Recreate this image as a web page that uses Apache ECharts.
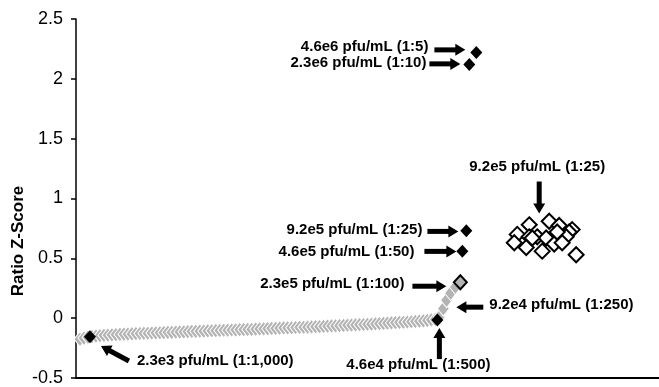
<!DOCTYPE html>
<html>
<head>
<meta charset="utf-8">
<script src="https://cdn.jsdelivr.net/npm/echarts@6/dist/echarts.min.js"></script>
<style>
html,body{margin:0;padding:0;background:#fff;}
#chart{width:659px;height:387px;}
</style>
</head>
<body>
<div id="chart"></div>
<script>
// ---- Data (x = rank position, y = Ratio Z-Score) ----
var yTicks = [-0.5, 0, 0.5, 1, 1.5, 2, 2.5];
var yAxisTitle = "Ratio Z-Score";

// gray sorted background points (rank 1..90)
var grayValues = [
  -0.175,-0.166,-0.159,-0.154,-0.150,-0.147,-0.144,-0.142,-0.140,-0.138,
  -0.136,-0.134,-0.133,-0.131,-0.130,-0.128,-0.127,-0.126,-0.124,-0.123,
  -0.122,-0.120,-0.119,-0.118,-0.116,-0.115,-0.114,-0.113,-0.111,-0.110,
  -0.109,-0.108,-0.106,-0.105,-0.104,-0.103,-0.101,-0.100,-0.099,-0.098,
  -0.096,-0.095,-0.094,-0.093,-0.091,-0.090,-0.089,-0.088,-0.086,-0.085,
  -0.084,-0.082,-0.081,-0.080,-0.078,-0.077,-0.076,-0.074,-0.073,-0.071,
  -0.070,-0.068,-0.067,-0.065,-0.064,-0.062,-0.061,-0.059,-0.058,-0.056,
  -0.054,-0.053,-0.051,-0.049,-0.047,-0.046,-0.044,-0.042,-0.040,-0.038,
  -0.036,-0.034,-0.032,-0.030,-0.027,-0.025,-0.022,-0.019,-0.015,-0.010
];
// gray steep tail (1:250 dilution)
var steepX = [91, 92, 92.8, 93.8, 95];
var steepY = [0.01, 0.08, 0.15, 0.21, 0.26];

// highlighted dilution points (black)
var blackX = [3.5, 90.5, 96.75, 97.75, 98.5, 100.25];
var blackY = [-0.155, -0.015, 0.56, 0.73, 2.12, 2.22];

// 1:100 point (gray with black border)
var midX = [96.25];
var midY = [0.30];

// 9.2e5 pfu/mL (1:25) replicate cluster (open diamonds)
var clusterX = [113.5, 118.5, 121, 124.25, 123.5, 110.5, 113.5, 115.5, 117.75, 122.75, 109.75, 112.75, 116.75, 119.75, 121.75, 125.25, 114.25, 120.5];
var clusterY = [0.78, 0.81, 0.775, 0.74, 0.72, 0.70, 0.68, 0.68, 0.67, 0.68, 0.63, 0.59, 0.56, 0.62, 0.63, 0.53, 0.67, 0.72];

// annotations: text + arrow (data coordinates)
var annTexts = ["4.6e6 pfu/mL (1:5)", "2.3e6 pfu/mL (1:10)", "9.2e5 pfu/mL (1:25)", "4.6e5 pfu/mL (1:50)",
  "2.3e5 pfu/mL (1:100)", "9.2e4 pfu/mL (1:250)", "4.6e4 pfu/mL (1:500)", "2.3e3 pfu/mL (1:1,000)", "9.2e5 pfu/mL (1:25)"];
var annTextPos = [[88.25,2.267],[87.75,2.133],[86.75,0.742],[84.75,0.558],[82.25,0.283],[103.5,0.108],[85.75,-0.392],[15.25,-0.358],[115.5,1.267]];
var annAlign = ["right","right","right","right","right","left","center","left","center"];
var arrowFrom = [[89.75,2.242],[88.5,2.125],[88,0.725],[87.25,0.558],[84.25,0.267],[102,0.092],[91,-0.342],[13.25,-0.358],[116,1.142]];
var arrowTo   = [[97.5,2.242],[96.25,2.125],[95.75,0.725],[95.25,0.558],[92.75,0.267],[95.25,0.092],[91,-0.083],[6.25,-0.233],[116,0.875]];

function pairs(xs, ys){ var out=[]; for(var i=0;i<xs.length;i++) out.push([xs[i], ys[i]]); return out; }
var grayData = grayValues.map(function(v,i){ return [i+1, v]; }).concat(pairs(steepX, steepY));

var chart = echarts.init(document.getElementById('chart'), null, {renderer:'canvas'});
var FONT = "'Liberation Sans', Arial, sans-serif";

chart.setOption({
  animation: false,
  backgroundColor: '#fff',
  grid: {left: 76, right: 0, top: 19, bottom: 8},
  xAxis: {type:'value', min:0, max:146,
    axisLine:{show:true, onZero:false, lineStyle:{color:'#000', width:2}},
    axisTick:{show:false}, axisLabel:{show:false}, splitLine:{show:false}},
  yAxis: {type:'value', min:yTicks[0], max:yTicks[yTicks.length-1], interval:0.5,
    axisLine:{show:true, lineStyle:{color:'#000', width:1.5}},
    axisTick:{show:true, length:5, lineStyle:{color:'#000', width:1.5}},
    axisLabel:{color:'#000', fontSize:18, fontFamily:FONT, margin:13},
    splitLine:{show:false}},
  series: [
    {type:'scatter', data: grayData, symbol:'diamond', symbolSize:[12,15],
      itemStyle:{color:'#b3b3b3', borderColor:'#fff', borderWidth:1, opacity:1}, z:2},
    {type:'scatter', data: pairs(blackX, blackY), symbol:'diamond', symbolSize:[12,13],
      itemStyle:{color:'#000', opacity:1}, z:4},
    {type:'scatter', data: pairs(midX, midY), symbol:'diamond', symbolSize:[13,14],
      itemStyle:{color:'#b3b3b3', borderColor:'#000', borderWidth:2, opacity:1}, z:4},
    {type:'scatter', data: pairs(clusterX, clusterY), symbol:'diamond', symbolSize:15,
      itemStyle:{color:'#fff', borderColor:'#000', borderWidth:2, opacity:1}, z:3}
  ]
});

var g = [];
g.push({type:'text', x:18, y:241, rotation:Math.PI/2,
  style:{text:yAxisTitle, font:'bold 17px ' + FONT, fill:'#000', textAlign:'center', textVerticalAlign:'middle'}});
for (var i=0;i<annTexts.length;i++){
  var tp = chart.convertToPixel({gridIndex:0}, annTextPos[i]);
  g.push({type:'text', x:tp[0], y:tp[1],
    style:{text:annTexts[i], font:'bold 15px ' + FONT, fill:'#000', textAlign:annAlign[i], textVerticalAlign:'middle'}});
  var a = chart.convertToPixel({gridIndex:0}, arrowFrom[i]);
  var b = chart.convertToPixel({gridIndex:0}, arrowTo[i]);
  var dx=b[0]-a[0], dy=b[1]-a[1], L=Math.sqrt(dx*dx+dy*dy), ux=dx/L, uy=dy/L;
  var headL=10, headW=6;
  var bx=b[0]-ux*headL, by=b[1]-uy*headL;
  g.push({type:'line', shape:{x1:a[0], y1:a[1], x2:bx+ux*1, y2:by+uy*1}, style:{stroke:'#000', lineWidth:5}});
  g.push({type:'polygon', shape:{points:[[b[0],b[1]],[bx-uy*headW, by+ux*headW],[bx+uy*headW, by-ux*headW]]}, style:{fill:'#000'}});
}
chart.setOption({graphic: g});
</script>
</body>
</html>
